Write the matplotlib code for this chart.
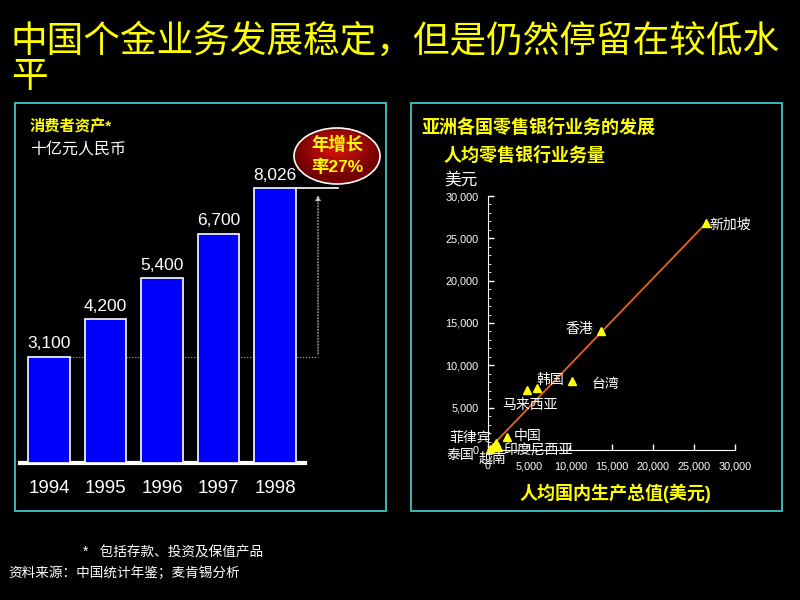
import numpy as np
import matplotlib
matplotlib.use("Agg")
import matplotlib.pyplot as plt
from matplotlib.patches import Rectangle, Ellipse

plt.rcParams['font.family'] = ['Liberation Sans', 'Noto Sans CJK SC', 'DejaVu Sans']

# 左图: 消费者资产 (十亿元人民币)
years = ['1994', '1995', '1996', '1997', '1998']
assets = [3100, 4200, 5400, 6700, 8026]

# 右图: 人均GDP vs 人均零售银行业务量 (美元)
countries = ['新加坡', '香港', '台湾', '韩国', '马来西亚', '中国', '菲律宾', '泰国', '越南', '印度尼西亚']
gdp_pc = [26500, 13700, 10200, 6000, 4700, 2300, 1000, 600, 300, 1200]
bank_pc = [26800, 14100, 8100, 7300, 7100, 1500, 800, 400, 100, 300]
trend_x = [0, 26500]
trend_y = [0, 26800]

YELLOW = '#ffff00'
CYAN = '#3cc8c8'
W, H = 800, 600

fig = plt.figure(figsize=(8, 6), dpi=100, facecolor='black')


def px_rect(left, top, right, bottom):
    return [left / W, 1 - bottom / H, (right - left) / W, (bottom - top) / H]


# ---- 柱状图 ----
ax1 = fig.add_axes(px_rect(20, 163, 305, 463))
ax1.set_facecolor('none')
x = np.arange(len(years))
ax1.bar(x, assets, width=0.73, color='#0000ff', edgecolor='white', linewidth=1.2, zorder=3)
for xi, v in zip(x, assets):
    ax1.annotate(f'{v:,}', (xi, v), xytext=(0, 4), textcoords='offset points',
                 ha='center', va='bottom', color='white', fontsize=12.5)
ax1.set_xlim(-0.513, 4.53)
ax1.set_ylim(0, 8760)
ax1.set_xticks(x)
ax1.set_xticklabels(years, color='white', fontsize=13.5)
ax1.tick_params(axis='x', length=0, pad=12)
ax1.set_yticks([])
for s in ['top', 'right', 'left']:
    ax1.spines[s].set_visible(False)
ax1.spines['bottom'].set_color('white')
ax1.spines['bottom'].set_linewidth(3)

# 增长指示线
arrow_x = 4.76
ax1.plot([0.365, arrow_x], [assets[0], assets[0]], color='#b4b4b4', lw=0.8, ls=':', clip_on=False, zorder=2)
ax1.plot([4.365, 5.115], [assets[-1], assets[-1]], color='white', lw=1.2, clip_on=False, zorder=4)
ax1.annotate('', xy=(arrow_x, assets[-1] - 120), xytext=(arrow_x, assets[0]),
             arrowprops=dict(arrowstyle='-|>', color='#d0d0d0', lw=0.8, ls=':',
                             mutation_scale=8), annotation_clip=False)

# ---- 散点图 ----
ax2 = fig.add_axes(px_rect(488, 196, 735, 450))
ax2.set_facecolor('none')
ax2.plot(trend_x, trend_y, color='#e8641e', lw=1.3, zorder=2)
ax2.plot(gdp_pc, bank_pc, ls='none', marker='^', ms=6, color=YELLOW, zorder=3, clip_on=False)
ax2.set_xlim(0, 30000)
ax2.set_ylim(0, 30000)
ticks = np.arange(0, 30001, 5000)
ax2.set_xticks(ticks)
ax2.set_xticklabels([f'{t:,}' for t in ticks])
ax2.set_yticks(ticks)
ax2.set_yticklabels([f'{t:,}' for t in ticks])
ax2.set_yticks(np.arange(0, 30001, 1000), minor=True)
ax2.tick_params(axis='both', colors='white', labelsize=7.8, direction='in', length=4, width=1)
ax2.tick_params(axis='y', which='minor', colors='white', direction='in', length=2.5)
ax2.tick_params(axis='x', pad=8)
ax2.tick_params(axis='y', pad=7)
for s in ['top', 'right']:
    ax2.spines[s].set_visible(False)
for s in ['left', 'bottom']:
    ax2.spines[s].set_color('white')

# 国家标签 (偏移: 像素)
label_pos = {
    '新加坡': (3, -2, 'left'),
    '香港': (-8, 2, 'right'),
    '台湾': (20, -3, 'left'),
    '韩国': (13, 8, 'center'),
    '马来西亚': (3, -15, 'center'),
    '中国': (7, 1, 'left'),
    '菲律宾': (-5, 5, 'right'),
    '泰国': (-19, -8, 'right'),
    '越南': (2, -10, 'center'),
    '印度尼西亚': (5, -2.5, 'left'),
}
for name, gx, by in zip(countries, gdp_pc, bank_pc):
    dx, dy, ha = label_pos[name]
    ax2.annotate(name, (gx, by), xytext=(dx * 0.72, dy * 0.72), textcoords='offset points',
                 ha=ha, va='center', color='white', fontsize=10, annotation_clip=False)

# ---- 覆盖层: 边框, 标题, 注释 ----
ov = fig.add_axes([0, 0, 1, 1])
ov.set_xlim(0, W)
ov.set_ylim(H, 0)
ov.axis('off')
ov.patch.set_visible(False)

ov.add_patch(Rectangle((15, 103), 371, 408, fill=False, ec=CYAN, lw=1.3))
ov.add_patch(Rectangle((411, 103), 371, 408, fill=False, ec=CYAN, lw=1.3))

ov.text(11, 42, '中国个金业务发展稳定，但是仍然停留在较低水', color=YELLOW,
        fontsize=26.4, ha='left', va='center')
ov.text(11, 78, '平', color=YELLOW, fontsize=26.4, ha='left', va='center')

ov.text(30, 127, '消费者资产*', color=YELLOW, fontsize=11, fontweight='bold', va='center')
ov.text(30, 150, '十亿元人民币', color='white', fontsize=11.5, va='center')

ov.text(421, 128, '亚洲各国零售银行业务的发展', color=YELLOW, fontsize=13, fontweight='bold', va='center')
ov.text(444, 156, '人均零售银行业务量', color=YELLOW, fontsize=13, fontweight='bold', va='center')
ov.text(444, 180, '美元', color='white', fontsize=12, va='center')
ov.text(615, 493, '人均国内生产总值(美元)', color=YELLOW, fontsize=13, fontweight='bold',
        ha='center', va='center')

ov.text(83, 553, '*   包括存款、投资及保值产品', color='white', fontsize=9.8, va='center')
ov.text(8, 573, '资料来源：中国统计年鉴；麦肯锡分析', color='white', fontsize=9.8, va='center')

# 年增长率椭圆 (径向渐变)
cx, cy, ew, eh = 337, 156, 86, 56
yy, xx = np.mgrid[-1:1:100j, -1:1:100j]
rr = np.clip(np.sqrt(xx ** 2 + (yy + 0.25) ** 2), 0, 1)
c_in = np.array([0.85, 0.08, 0.05])
c_out = np.array([0.45, 0.0, 0.0])
grad = c_in[None, None, :] * (1 - rr[..., None]) + c_out[None, None, :] * rr[..., None]
ell = Ellipse((cx, cy), ew, eh, fc='none', ec='white', lw=1.2, zorder=6)
img = ov.imshow(grad, extent=(cx - ew / 2, cx + ew / 2, cy + eh / 2, cy - eh / 2),
                zorder=5, interpolation='bilinear')
ov.add_patch(ell)
img.set_clip_path(ell)
ov.set_xlim(0, W)
ov.set_ylim(H, 0)
ov.set_aspect('auto')
ov.text(cx, cy - 12, '年增长', color=YELLOW, fontsize=12.5, fontweight='bold',
        ha='center', va='center', zorder=7)
ov.text(cx, cy + 11, '率27%', color=YELLOW, fontsize=12.5, fontweight='bold',
        ha='center', va='center', zorder=7)

fig.savefig('out.png', dpi=100, facecolor='black')
